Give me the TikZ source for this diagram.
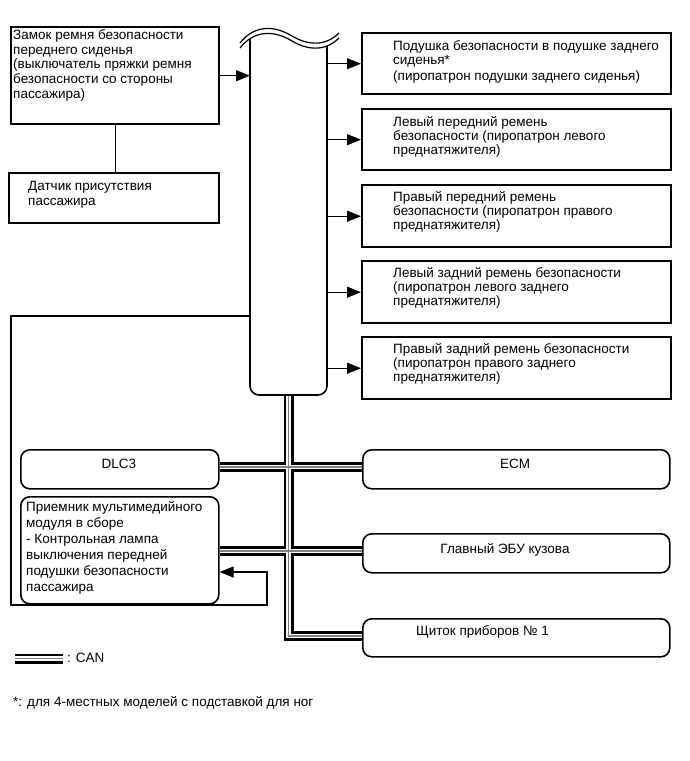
\documentclass[tikz,border=0pt]{standalone}
\usepackage{fontspec}
\setmainfont{Liberation Sans}
\usetikzlibrary{arrows.meta}
\newcommand{\fl}{\rule{0pt}{10.5pt}}
\begin{document}
\begin{tikzpicture}[x=1pt,y=-1pt,
  box/.style={draw, line width=2.4pt, anchor=north west, inner sep=0pt},
  rbox/.style={draw, line width=1.6pt, rounded corners=9pt, anchor=north west, inner sep=0pt},
  txt/.style={inner sep=0pt, anchor=north west, align=left, font=\fontsize{13.5}{14.6}\selectfont},
  txtr/.style={txt, font=\fontsize{13.5}{14}\selectfont},
  lbl/.style={inner sep=0pt, anchor=base, font=\fontsize{13.5}{14.6}\selectfont},
  wire/.style={line width=1.1pt},
  arr/.style={wire, -{Triangle[length=14pt,width=11pt]}},
]
\useasboundingbox (0,0) rectangle (689,761);

% left boxes
\node[box, minimum width=208pt, minimum height=97pt] (A) at (10,26) {};
\node[box, minimum width=210pt, minimum height=50pt] (B) at (8,172) {};
\node[txt] (tA) at (13,29) {\fl Замок ремня безопасности\\переднего сиденья\\(выключатель пряжки ремня\\безопасности со стороны\\пассажира)};
\node[txt, font=\fontsize{13.5}{15}\selectfont] (tB) at (28,180) {\fl Датчик присутствия\\пассажира};

% main unit (bus)
\node[minimum width=77pt, minimum height=375pt, anchor=north west, inner sep=0pt] (bus) at (250,20) {};
\draw[line width=1.6pt, rounded corners=9pt] (250,30) -- (250,395) -- (327,395) -- (327,30);
\fill[white] (240,48) .. controls (254,30) and (274,30) .. (292,41) .. controls (307,50) and (325,52) .. (339,38) -- (339,10) -- (240,10) -- cycle;
\draw[line width=1.2pt] (240,48) .. controls (254,30) and (274,30) .. (292,41) .. controls (307,50) and (325,52) .. (339,38);
\draw[line width=1.2pt] (240,43) .. controls (254,25) and (274,25) .. (292,36) .. controls (307,45) and (325,47) .. (339,33);

% right boxes
\node[box, minimum width=309pt, minimum height=61pt] (R1) at (361,32) {};
\node[box, minimum width=309pt, minimum height=61pt] (R2) at (361,108) {};
\node[box, minimum width=309pt, minimum height=62pt] (R3) at (361,184) {};
\node[box, minimum width=309pt, minimum height=62pt] (R4) at (361,260) {};
\node[box, minimum width=309pt, minimum height=62pt] (R5) at (361,336) {};
\node[txtr] (tR1) at (393,40) {\fl Подушка безопасности в подушке заднего\\сиденья*\\[2pt](пиропатрон подушки заднего сиденья)};
\node[txtr] (tR2) at (393,116) {\fl Левый передний ремень\\безопасности (пиропатрон левого\\преднатяжителя)};
\node[txtr] (tR3) at (393,191) {\fl Правый передний ремень\\безопасности (пиропатрон правого\\преднатяжителя)};
\node[txtr] (tR4) at (393,267) {\fl Левый задний ремень безопасности\\(пиропатрон левого заднего\\преднатяжителя)};
\node[txtr] (tR5) at (393,343) {\fl Правый задний ремень безопасности\\(пиропатрон правого заднего\\преднатяжителя)};

% lower rounded boxes
\node[rbox, minimum width=198pt, minimum height=39pt] (DLC) at (20,449) {};
\node[rbox, minimum width=198pt, minimum height=107pt] (C) at (20,496) {};
\node[rbox, minimum width=307pt, minimum height=39pt] (ECM) at (362,449) {};
\node[rbox, minimum width=307pt, minimum height=39pt] (BCM) at (362,533) {};
\node[rbox, minimum width=307pt, minimum height=38pt] (MET) at (362,618) {};
\node[lbl] (tDLC) at (119,468) {DLC3};
\node[lbl] (tECM) at (515,468) {ECM};
\node[lbl] (tBCM) at (505,553) {Главный ЭБУ кузова};
\node[lbl, anchor=base west] (tMET) at (416,635) {Щиток приборов № 1};
\node[txt, font=\fontsize{13.5}{16}\selectfont] (tC) at (26,501) {\fl Приемник мультимедийного\\модуля в сборе\\- Контрольная лампа\\выключения передней\\подушки безопасности\\пассажира};

% connectors
\draw[arr] (A.east) -- (bus.west |- A.east);
\draw[wire] (A.south) -- (A.south |- B.north);
\foreach \r in {R1,R2,R3,R4,R5} \draw[arr] (bus.east |- \r.west) -- (\r.west);
\coordinate (tap) at (250,316);
\draw[arr] (tap) -- (11,316) -- (11,605) -- (267,605) -- (267,572) -- (C.east |- 0,572);

% CAN bus
\coordinate (cantop) at (288.5,396);
\foreach \w/\c in {10/black, 4.4/white, 1.5/gray} {
  \draw[line width=\w pt, \c, line join=miter] (cantop) -- (cantop |- 0,636) -- (MET.west |- 0,636);
  \draw[line width=\w pt, \c] (DLC.east |- 0,467) -- (ECM.west |- 0,467);
  \draw[line width=\w pt, \c] (C.east |- 0,551) -- (BCM.west |- 0,551);
  \draw[line width=\w pt, \c] (15,658.5) -- (63,658.5);
}

% legend & footnote
\node[lbl, anchor=base west] (tCAN) at (67,662) {: CAN};
\node[lbl, anchor=base west] (tfoot) at (13,706) {*: для 4-местных моделей с подставкой для ног};
\end{tikzpicture}
\end{document}
